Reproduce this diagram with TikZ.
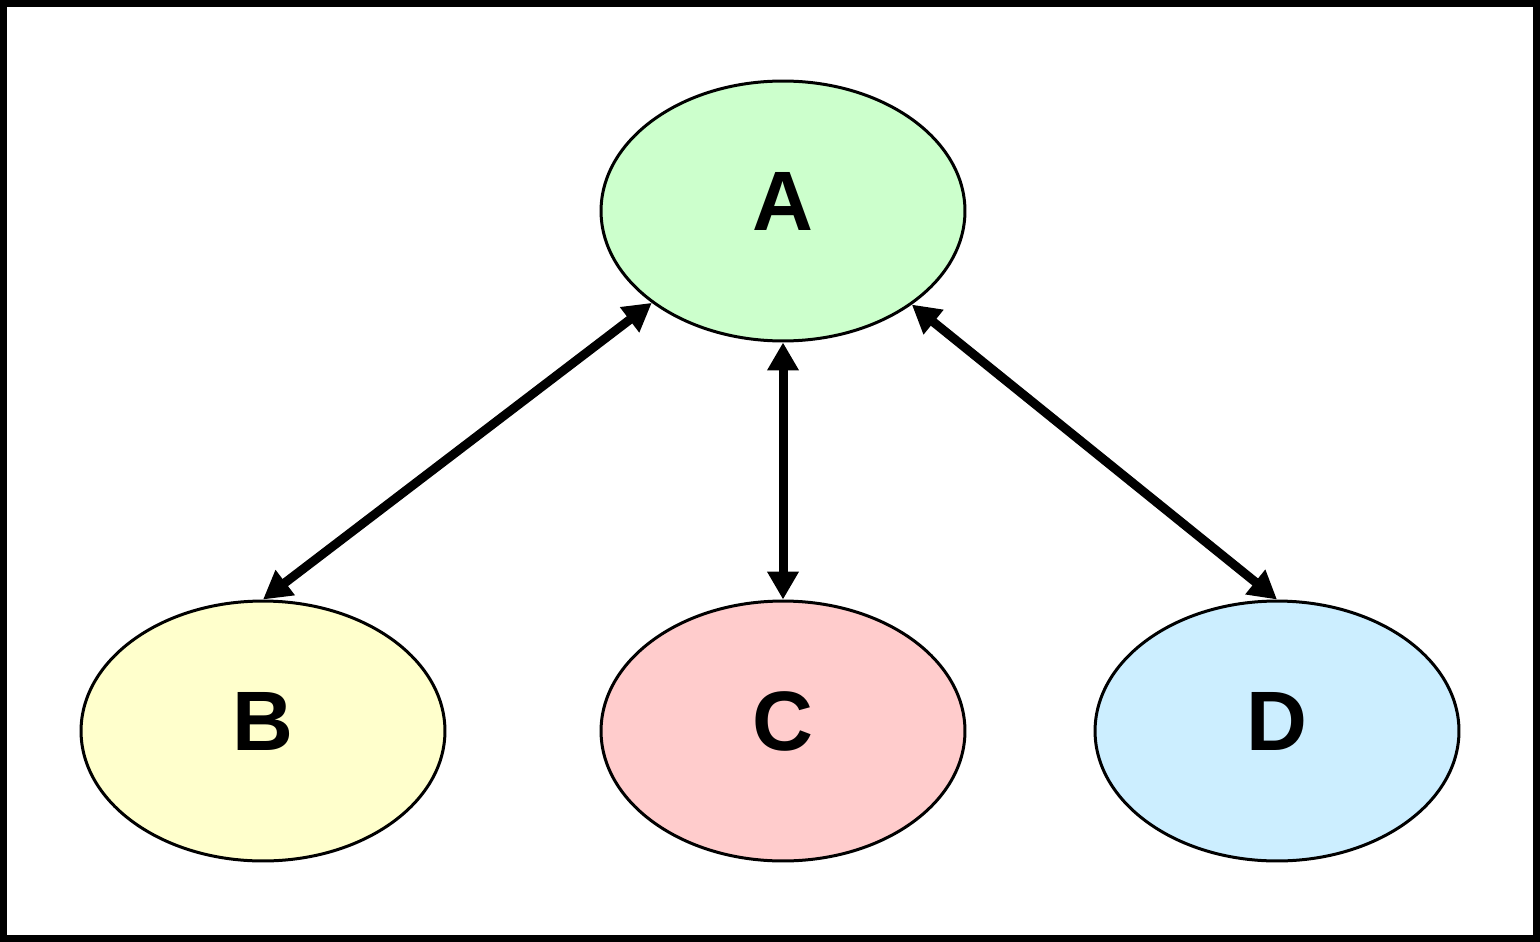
\documentclass[tikz,border=0pt]{standalone}
\usepackage{fontspec}
\setmainfont{Liberation Sans}
\usetikzlibrary{shapes.geometric,arrows.meta}
\definecolor{cA}{HTML}{CCFFCC}
\definecolor{cB}{HTML}{FFFFCC}
\definecolor{cC}{HTML}{FFCCCC}
\definecolor{cD}{HTML}{CCEEFF}
\tikzset{
  blob/.style={ellipse, draw=black, line width=0.06cm, minimum width=7.28cm, minimum height=5.2cm, inner sep=0pt,
    font=\fontsize{48}{50}\selectfont\bfseries, text depth=0.4cm},
  link/.style={line width=0.18cm, {Triangle[length=0.56cm,width=0.6cm]}-{Triangle[length=0.56cm,width=0.6cm]}, shorten <=0pt, shorten >=0pt}
}
\begin{document}
\begin{tikzpicture}[x=0.02cm,y=-0.02cm]
\useasboundingbox (0,0) rectangle (1540,942);
\draw[line width=0.14cm] (3.5,3.5) rectangle (1536.5,938.5);
\node[blob, fill=cA] (A) at (783,211) {A};
\node[blob, fill=cB] (B) at (263,731) {B};
\node[blob, fill=cC] (C) at (783,731) {C};
\node[blob, fill=cD] (D) at (1277,731) {D};
\draw[link] (A.215) -- (B.north);
\draw[link] (A.south) -- (C.north);
\draw[link] (A.324) -- (D.north);
\end{tikzpicture}
\end{document}
